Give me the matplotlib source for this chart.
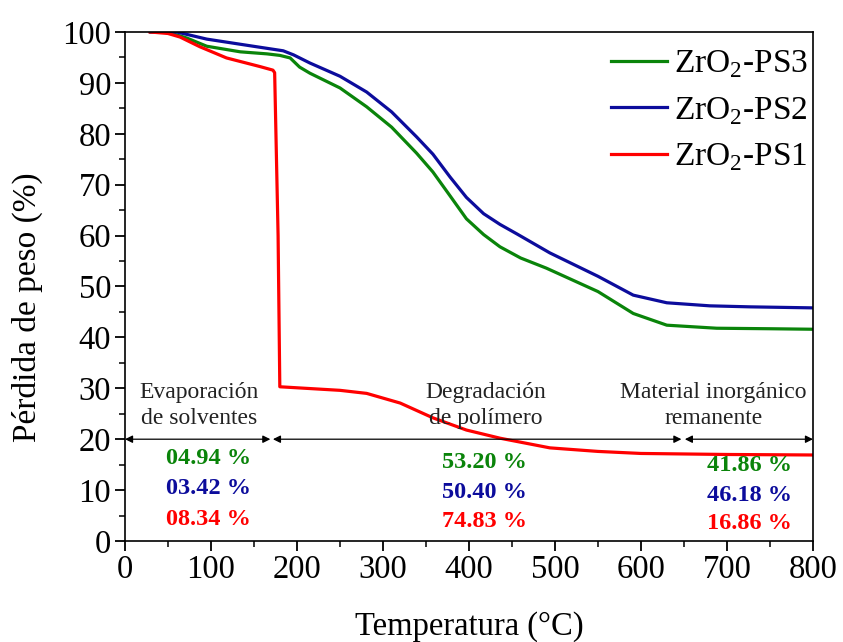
"""
Curvas TGA de los compósitos ZrO2-PS
"""

import matplotlib.pyplot as plt

plt.rcParams['font.family'] = ['Liberation Serif', 'DejaVu Serif']
plt.rcParams['mathtext.fontset'] = 'custom'
plt.rcParams['mathtext.rm'] = 'Liberation Serif'

# Temperatura (°C) y pérdida de peso (%) de cada muestra
temp_ps3 = [30, 49, 72, 95, 134, 165, 180, 192, 203, 215, 250, 281, 310, 339,
            358, 378, 397, 417, 436, 460, 490, 550, 591, 630, 688, 750, 800]
peso_ps3 = [100, 100, 98.8, 97.2, 96.1, 95.7, 95.4, 94.9, 93.1, 91.9, 89.0, 85.3,
            81.3, 76.2, 72.5, 67.8, 63.3, 60.2, 57.8, 55.6, 53.6, 49.0, 44.7,
            42.4, 41.8, 41.7, 41.6]

temp_ps2 = [30, 60, 95, 149, 184, 196, 215, 250, 281, 310, 339, 358, 378, 397,
            417, 436, 456, 494, 550, 591, 630, 680, 727, 800]
peso_ps2 = [100, 100, 98.6, 97.2, 96.3, 95.5, 93.9, 91.3, 88.2, 84.3, 79.4, 76.0,
            71.5, 67.5, 64.3, 62.2, 60.3, 56.6, 52.0, 48.3, 46.8, 46.2, 46.0, 45.8]

temp_ps1 = [29, 50, 64, 87, 118, 157, 172, 174, 178, 180, 250, 281, 320, 358,
            397, 436, 494, 550, 600, 700, 800]
peso_ps1 = [100, 99.7, 99.0, 97.1, 94.9, 93.2, 92.5, 92.0, 60.0, 30.3, 29.6, 29.0,
            27.1, 24.2, 21.8, 20.2, 18.3, 17.6, 17.2, 17.0, 16.9]

series = [
    ('ZrO$_2$-PS3', temp_ps3, peso_ps3, '#0a840a'),
    ('ZrO$_2$-PS2', temp_ps2, peso_ps2, '#0c0c9c'),
    ('ZrO$_2$-PS1', temp_ps1, peso_ps1, '#ff0000'),
]

# Etapas de la descomposición
etapas = ['Evaporación\nde solventes', 'Degradación\nde polímero',
          'Material inorgánico\nremanente']
etapa_x = [86, 420, 684]
etapa_lim = [(0, 169), (172, 647), (651, 800)]

# Pérdidas por etapa (PS3, PS2, PS1)
perdidas = [
    ['04.94 %', '03.42 %', '08.34 %'],
    ['53.20 %', '50.40 %', '74.83 %'],
    ['41.86 %', '46.18 %', '16.86 %'],
]
perdida_x = [97, 418, 726]
perdida_y = [[16.3, 10.4, 4.3], [15.5, 9.6, 3.9], [14.9, 9.0, 3.5]]


def main():
    fig = plt.figure(figsize=(8.43, 6.42), dpi=100)
    ax = fig.add_axes([0.1483, 0.1573, 0.8161, 0.7929])

    for label, t, p, c in series:
        ax.plot(t, p, color=c, linewidth=2.3, label=label)

    ax.set_xlim(0, 800)
    ax.set_ylim(0, 100)
    ax.set_xticks(range(0, 801, 100))
    ax.set_xticks(range(50, 800, 100), minor=True)
    ax.set_yticks(range(0, 101, 10))
    ax.set_yticks(range(5, 100, 10), minor=True)
    ax.tick_params(which='major', direction='out', length=7, width=1.3,
                   labelsize=23.5, pad=3, top=False, right=False)
    ax.tick_params(which='minor', direction='out', length=4, width=1.1,
                   top=False, right=False)
    for s in ax.spines.values():
        s.set_linewidth(1.2)

    ax.set_xlabel('Temperatura (°C)', fontsize=23.5)
    ax.set_ylabel('Pérdida de peso (%)', fontsize=24)
    ax.xaxis.set_label_coords(0.501, -0.137)
    ax.yaxis.set_label_coords(-0.119, 0.46)

    # Flechas de cada etapa
    for (x0, x1) in etapa_lim:
        ax.annotate('', xy=(x0, 20), xytext=(x1, 20),
                    arrowprops=dict(arrowstyle='<|-|>', color='black', lw=0.9,
                                    mutation_scale=11, shrinkA=0, shrinkB=0))

    for txt, x in zip(etapas, etapa_x):
        ax.text(x, 26.6, txt, ha='center', va='center', fontsize=17,
                linespacing=1.35, color='#222222')

    colores = [c for _, _, _, c in series]
    for col, x, ys in zip(perdidas, perdida_x, perdida_y):
        for txt, y, c in zip(col, ys, colores):
            ax.text(x, y, txt, ha='center', va='center', fontsize=17.5,
                    fontweight='bold', color=c)

    leg = ax.legend(loc='upper right', bbox_to_anchor=(0.993, 0.968), frameon=False,
                    fontsize=24, handlelength=1.7, handletextpad=0.2,
                    labelspacing=0.45, borderpad=0, borderaxespad=0)
    for line in leg.get_lines():
        line.set_linewidth(2.3)

    fig.savefig('out.png', dpi=100)


if __name__ == "__main__":
    main()
